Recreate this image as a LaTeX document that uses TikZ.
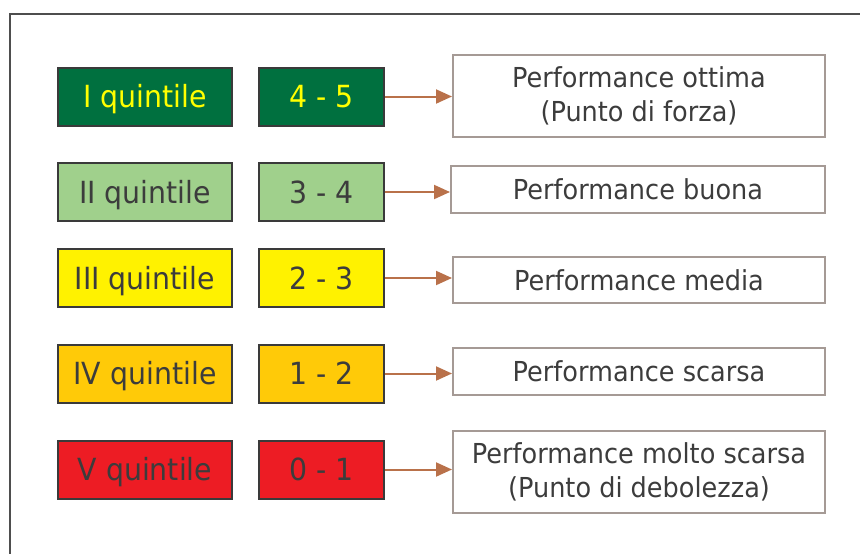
\documentclass[tikz,border=0pt]{standalone}
\usepackage{fontspec}
\setmainfont[FakeStretch=0.93]{DejaVu Sans}
\usetikzlibrary{arrows.meta}
\definecolor{txt}{HTML}{3C3C3C}
\definecolor{edge}{HTML}{3A3A3A}
\definecolor{rbord}{HTML}{A59A95}
\definecolor{arr}{HTML}{B9714A}
\definecolor{dgreen}{HTML}{00703F}
\definecolor{lgreen}{HTML}{A0D08C}
\definecolor{yel}{HTML}{FFF200}
\definecolor{oyel}{HTML}{FFCA08}
\definecolor{red1}{HTML}{ED1C24}
\definecolor{ytxt}{HTML}{FFFF00}
\begin{document}
\begin{tikzpicture}[x=1pt,y=-1pt,
  qbox/.style={draw=edge, line width=2pt, minimum width=174pt, minimum height=58pt, inner sep=0pt, text=txt, text height=22pt, text depth=0pt, font=\fontsize{30.5}{34}\selectfont},
  vbox/.style={draw=edge, line width=2pt, minimum width=125pt, minimum height=58pt, inner sep=0pt, text=txt, text height=22pt, text depth=0pt, font=\fontsize{30.5}{34}\selectfont},
  pbox/.style={draw=rbord, line width=2pt, minimum width=372pt, inner sep=0pt, text=txt, align=center, font=\fontsize{27.5}{34}\selectfont},
  pone/.style={pbox, text height=20pt, text depth=0pt},
  conn/.style={draw=arr, line width=2pt, -{Triangle[length=16pt,width=14pt]}}]
\useasboundingbox (0,0) rectangle (860,554);
\clip (0,0) rectangle (860,554);
\draw[draw=edge!90, line width=2pt] (10,14) rectangle (880,580);
% row 1
\node[qbox, fill=dgreen, text=ytxt] (q1) at (145,96.5) {I quintile};
\node[vbox, fill=dgreen, text=ytxt] (v1) at (321.5,96.5) {4 - 5};
\node[pbox, minimum height=82pt] (p1) at (639,96) {Performance ottima\\(Punto di forza)};
% row 2
\node[qbox, fill=lgreen] (q2) at (145,192) {II quintile};
\node[vbox, fill=lgreen] (v2) at (321.5,192) {3 - 4};
\node[pone, minimum width=374pt, minimum height=47pt] (p2) at (638,189.5) {Performance buona};
% row 3
\node[qbox, fill=yel] (q3) at (145,278) {III quintile};
\node[vbox, fill=yel] (v3) at (321.5,278) {2 - 3};
\node[pone, minimum height=46pt] (p3) at (639,280) {Performance media};
% row 4
\node[qbox, fill=oyel] (q4) at (145,373.5) {IV quintile};
\node[vbox, fill=oyel] (v4) at (321.5,373.5) {1 - 2};
\node[pone, minimum height=47pt] (p4) at (639,371.5) {Performance scarsa};
% row 5
\node[qbox, fill=red1] (q5) at (145,469.5) {V quintile};
\node[vbox, fill=red1] (v5) at (321.5,469.5) {0 - 1};
\node[pbox, minimum height=82pt] (p5) at (639,472) {Performance molto scarsa\\(Punto di debolezza)};
% arrows
\foreach \i in {1,...,5}{
  \draw[conn] (v\i.east) -- (v\i.east -| p\i.west);
}
\end{tikzpicture}
\end{document}
